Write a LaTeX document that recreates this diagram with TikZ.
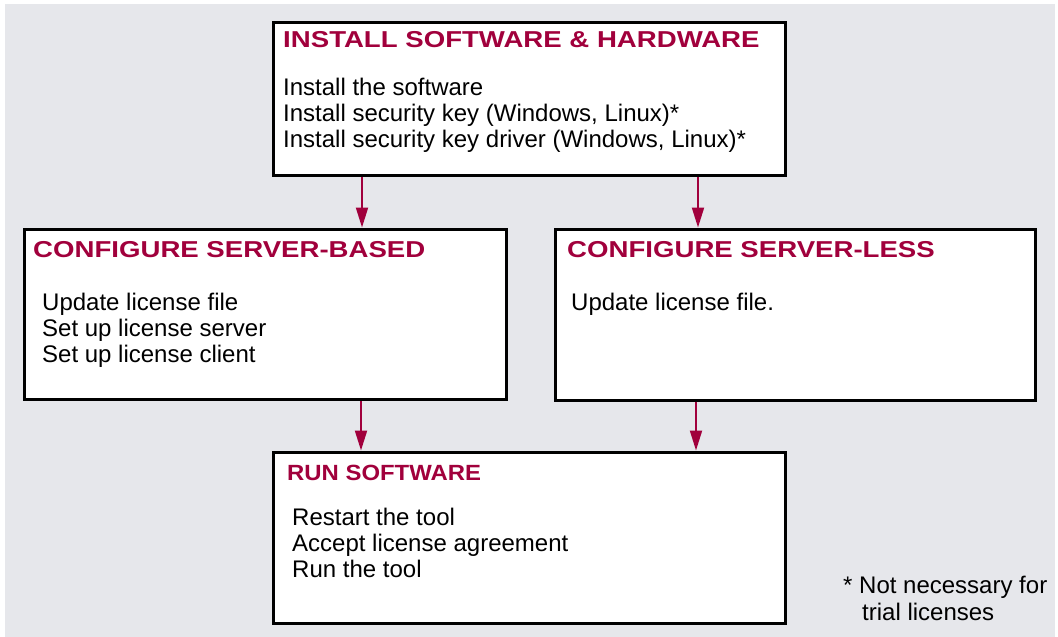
\documentclass[tikz,border=0pt]{standalone}
\usepackage{fontspec}
\setmainfont{Liberation Sans}
\usetikzlibrary{arrows.meta}
\definecolor{wine}{HTML}{A1003C}
\definecolor{panel}{HTML}{E6E7EB}
\tikzset{
  box/.style={draw, line width=3pt, fill=white, anchor=north west, inner sep=0pt},
  head/.style={anchor=base west, inner sep=0pt, text=wine,
    font=\bfseries\fontsize{23}{26}\selectfont, xscale=1.2, transform shape},
  item/.style={anchor=base west, inner sep=0pt, font=\fontsize{24}{26}\selectfont},
  flow/.style={-{Triangle[length=20pt,width=12pt]}, wine, line width=2pt}
}
\begin{document}
\begin{tikzpicture}[x=1pt,y=-1pt]
    \useasboundingbox (0,0) rectangle (1058,637);
    \fill[panel] (5,4) rectangle (1055,637);
    %% boxes
    \node[box, minimum width=512pt, minimum height=153.5pt] (install) at (272,20.5) {};
    \node[box, minimum width=482pt, minimum height=170.5pt] (based) at (23,227.5) {};
    \node[box, minimum width=480pt, minimum height=171pt] (less) at (553.5,227.5) {};
    \node[box, minimum width=512pt, minimum height=171.5pt] (run) at (271.5,450.5) {};
    %% titles
    \node[head] (t1) at (283,47.3) {INSTALL SOFTWARE \& HARDWARE};
    \node[head] (t2) at (33,257.3) {CONFIGURE SERVER-BASED};
    \node[head] (t3) at (567,257.3) {CONFIGURE SERVER-LESS};
    \node[head, font=\bfseries\fontsize{22}{26}\selectfont, xscale=0.905] (t4) at (287,480.7) {RUN SOFTWARE};
    %% steps
    \foreach \t [count=\i] in {Install the software, {Install security key (Windows, Linux)*},
        {Install security key driver (Windows, Linux)*}}
        \node[item] (s1\i) at (283,{95+26*(\i-1)}) {\t};
    \foreach \t [count=\i] in {Update license file, Set up license server, Set up license client}
        \node[item] (s2\i) at (42,{310+26*(\i-1)}) {\t};
    \node[item] (s31) at (571,310) {Update license file.};
    \foreach \t [count=\i] in {Restart the tool, Accept license agreement, Run the tool}
        \node[item] (s4\i) at (292,{525.5+26*(\i-1)}) {\t};
    %% footnote
    \node[item] (n1) at (843,593) {* Not necessary for};
    \node[item] (n2) at (862,620) {trial licenses};
    %% arrows
    \coordinate (c1) at (362,0);
    \coordinate (c2) at (698,0);
    \coordinate (c3) at (361,0);
    \coordinate (c4) at (696,0);
    \draw[flow] (install.south -| c1) -- (based.north -| c1);
    \draw[flow] (install.south -| c2) -- (less.north -| c2);
    \draw[flow] (based.south -| c3) -- (run.north -| c3);
    \draw[flow] (less.south -| c4) -- (run.north -| c4);
\end{tikzpicture}
\end{document}
